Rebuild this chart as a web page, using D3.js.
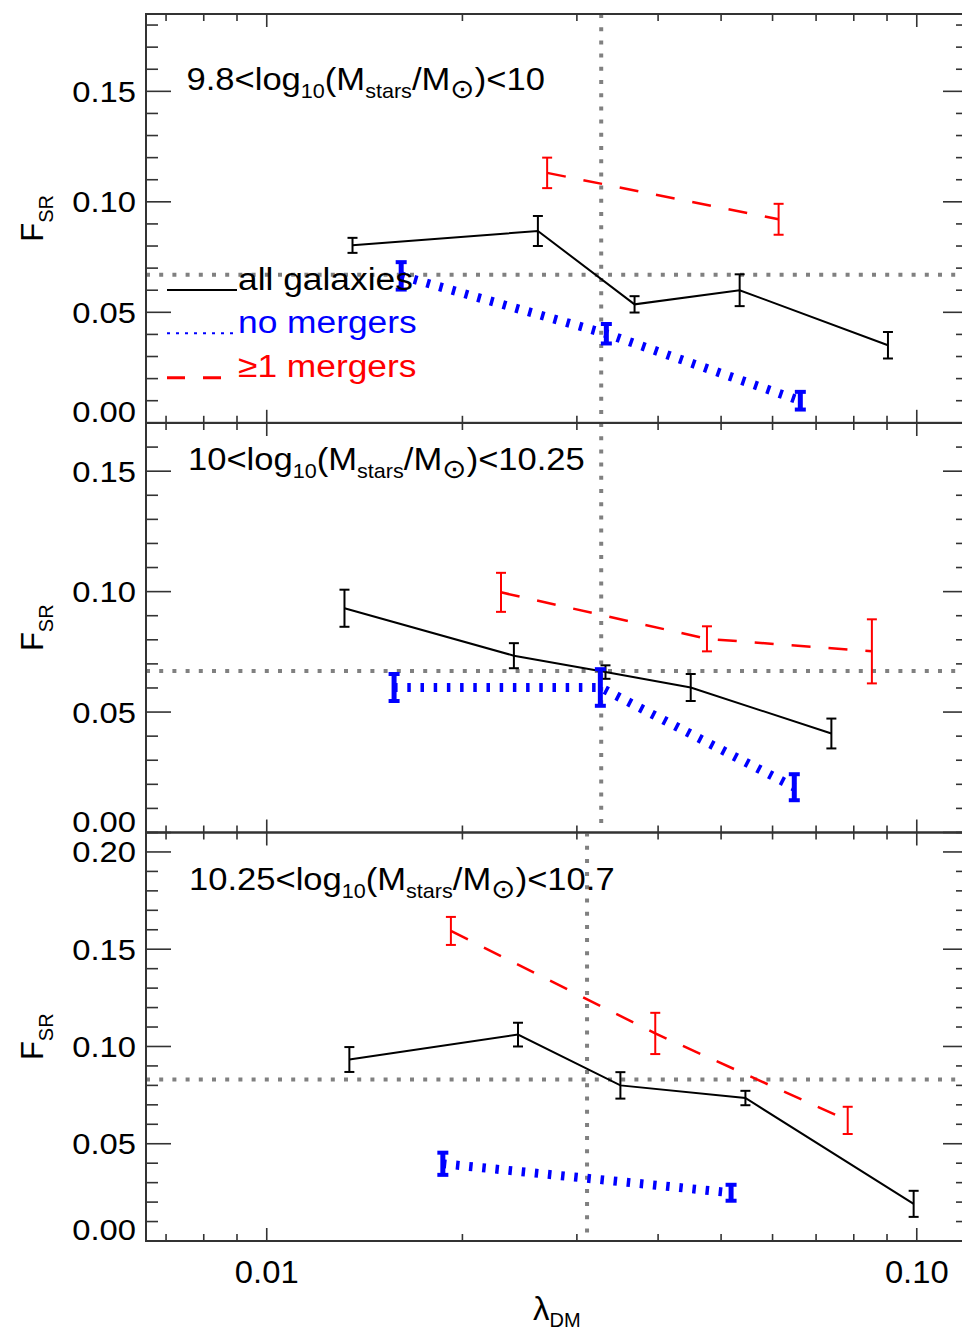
<!DOCTYPE html>
<html>
<head>
<meta charset="utf-8">
<script src="https://cdn.jsdelivr.net/npm/d3@7"></script>
<style>
  body { margin: 0; background: #fff; }
  text { font-family: "Liberation Sans", Arial, Helvetica, sans-serif; }
</style>
</head>
<body>
<svg id="chart" width="962" height="1330"></svg>
<script>
// Stellar-mass bins (log10 Mstars/Msun), one panel each
const massLow  = ["9.8", "10", "10.25"];
const massHigh = ["10", "10.25", "10.7"];

// All galaxies: lambda_DM bin centres, F_SR, 1-sigma error
const lambdaAll = [
  [0.01355, 0.02613, 0.0368, 0.0534, 0.0903],
  [0.01317, 0.0240, 0.0332, 0.0449, 0.0739],
  [0.0134, 0.02435, 0.0350, 0.0545, 0.0989]
];
const fsrAll = [
  [0.0803, 0.0868, 0.0536, 0.0600, 0.0351],
  [0.0931, 0.0734, 0.0666, 0.0602, 0.0411],
  [0.0933, 0.1061, 0.0800, 0.0735, 0.0191]
];
const errAll = [
  [0.0034, 0.0068, 0.0037, 0.0072, 0.0060],
  [0.0077, 0.0052, 0.0028, 0.0056, 0.0062],
  [0.0064, 0.0061, 0.0068, 0.0037, 0.0067]
];

// Galaxies with no mergers
const lambdaNone = [
  [0.0161, 0.0333, 0.0662],
  [0.0157, 0.0326, 0.0648],
  [0.01866, 0.0518]
];
const fsrNone = [
  [0.0665, 0.0403, 0.0100],
  [0.0602, 0.0602, 0.0188],
  [0.0397, 0.0248]
];
const errNone = [
  [0.0062, 0.0044, 0.0040],
  [0.0056, 0.0076, 0.0054],
  [0.0057, 0.0041]
];

// Galaxies with at least one merger
const lambdaMerg = [
  [0.0270, 0.0613],
  [0.02293, 0.04756, 0.0853],
  [0.0192, 0.0396, 0.0783]
];
const fsrMerg = [
  [0.1131, 0.0921],
  [0.0997, 0.0804, 0.0752],
  [0.1594, 0.1067, 0.0620]
];
const errMerg = [
  [0.0069, 0.0070],
  [0.0081, 0.0052, 0.0133],
  [0.0072, 0.0106, 0.0070]
];

// Reference values per panel: median lambda_DM and overall F_SR
const refLambda = [0.0327, 0.0327, 0.0311];
const refFsr    = [0.067, 0.067, 0.083];

// Axis ranges and tick labels
const xDomain = [0.00652, 0.1199];
const yMax = [0.185, 0.17, 0.21];
const yTickLabels = [
  ["0.00", "0.05", "0.10", "0.15"],
  ["0.00", "0.05", "0.10", "0.15"],
  ["0.00", "0.05", "0.10", "0.15", "0.20"]
];
const xTickLabels = ["0.01", "0.10"];
const legendLabels = ["all galaxies", "no mergers", "\u22651 mergers"];

// ---------- layout ----------
const plotLeft = 146, plotRight = 968;
const panelTop = [14, 423, 832.5];
const panelBottom = [422.8, 832.5, 1241];
const stretch = 1.11;          // glyphs are drawn slightly wide
const titleStretch = 1.08;
const frameColor = "#333";

const svg = d3.select("#chart");
const x = d3.scaleLog().domain(xDomain).range([plotLeft, plotRight]);

const styles = {
  all:  { color: "#000",    width: 2,   dash: null,       barW: 2,   capW: 2, cap: 5 },
  none: { color: "#0000ff", width: 9,   dash: "3.5 9.7",  barW: 5,   capW: 4, cap: 5.5 },
  merg: { color: "#ff0000", width: 2.5, dash: "19 18",    barW: 2,   capW: 2, cap: 5 }
};

function wideText(g, px, py, size, sx) {
  return g.append("text")
    .attr("transform", `translate(${px},${py}) scale(${sx},1)`)
    .style("font-size", size + "px");
}

function drawSeries(g, y, lam, val, err, st) {
  const pts = lam.map((l, i) => ({ l, v: val[i], e: err[i] }));
  const line = d3.line().x(d => x(d.l)).y(d => y(d.v));
  g.append("path")
    .attr("d", line(pts))
    .attr("fill", "none")
    .attr("stroke", st.color)
    .attr("stroke-width", st.width)
    .attr("stroke-dasharray", st.dash);
  const bars = g.append("g").attr("stroke", st.color);
  pts.forEach(d => {
    const cx = x(d.l), y1 = y(d.v + d.e), y0 = y(d.v - d.e);
    bars.append("line").attr("x1", cx).attr("x2", cx).attr("y1", y1).attr("y2", y0)
      .attr("stroke-width", st.barW);
    bars.append("line").attr("x1", cx - st.cap).attr("x2", cx + st.cap).attr("y1", y1).attr("y2", y1)
      .attr("stroke-width", st.capW);
    bars.append("line").attr("x1", cx - st.cap).attr("x2", cx + st.cap).attr("y1", y0).attr("y2", y0)
      .attr("stroke-width", st.capW);
  });
}

for (let p = 0; p < 3; p++) {
  const top = panelTop[p], bot = panelBottom[p];
  const y = d3.scaleLinear().domain([0, yMax[p]]).range([bot, top]);
  const g = svg.append("g");

  // reference lines
  const ref = g.append("g").attr("stroke", "#808080").attr("stroke-width", 4)
    .attr("stroke-dasharray", "4 9.2");
  ref.append("line").attr("x1", plotLeft).attr("x2", plotRight)
    .attr("y1", y(refFsr[p])).attr("y2", y(refFsr[p]));
  ref.append("line").attr("x1", x(refLambda[p])).attr("x2", x(refLambda[p]))
    .attr("y1", top).attr("y2", bot);

  // data
  drawSeries(g, y, lambdaAll[p], fsrAll[p], errAll[p], styles.all);
  drawSeries(g, y, lambdaNone[p], fsrNone[p], errNone[p], styles.none);
  drawSeries(g, y, lambdaMerg[p], fsrMerg[p], errMerg[p], styles.merg);

  // frame
  const ax = g.append("g").attr("stroke", frameColor).attr("fill", "none");
  ax.append("rect").attr("x", plotLeft).attr("y", top)
    .attr("width", plotRight - plotLeft).attr("height", bot - top)
    .attr("stroke-width", 2);

  // y ticks (both sides), major every 0.05, minor every 0.01
  const minorY = d3.range(0, yMax[p] + 1e-9, 0.01);
  minorY.forEach((v, i) => {
    const major = i % 5 === 0;
    const len = major ? 25 : 12;
    const yy = y(v);
    ax.append("line").attr("x1", plotLeft).attr("x2", plotLeft + len)
      .attr("y1", yy).attr("y2", yy).attr("stroke-width", 1.6);
    ax.append("line").attr("x1", plotRight).attr("x2", plotRight - len)
      .attr("y1", yy).attr("y2", yy).attr("stroke-width", 1.6);
  });

  // x ticks (top and bottom of each panel)
  x.ticks().forEach(t => {
    const major = Math.abs(Math.log10(t) - Math.round(Math.log10(t))) < 1e-6;
    const len = major ? 13 : 7;
    const xx = x(t);
    ax.append("line").attr("x1", xx).attr("x2", xx)
      .attr("y1", bot).attr("y2", bot - len).attr("stroke-width", 1.6);
    ax.append("line").attr("x1", xx).attr("x2", xx)
      .attr("y1", top).attr("y2", top + len).attr("stroke-width", 1.6);
  });

  // y tick labels
  yTickLabels[p].forEach(lbl => {
    const v = +lbl;
    const base = v === 0 ? y(v) - 1 : y(v) + 10.5;
    wideText(svg, 136, base, 29.5, stretch)
      .attr("text-anchor", "end").attr("fill", "#000").text(lbl);
  });

  // y axis title F_SR
  const yt = svg.append("text")
    .attr("transform", `translate(43,${(top + bot) / 2}) rotate(-90)`)
    .attr("text-anchor", "middle")
    .style("font-size", "31px");
  yt.append("tspan").text("F");
  yt.append("tspan").attr("dy", 10).style("font-size", "20px").text("SR");

  // panel title
  const tx = [186.5, 188, 189][p], ty = [90, 470, 890][p];
  const tt = wideText(svg, tx, ty, 32, titleStretch).attr("fill", "#000");
  tt.append("tspan").text(massLow[p] + "<log");
  tt.append("tspan").attr("dy", 8).style("font-size", "20px").text("10");
  tt.append("tspan").attr("dy", -8).text("(M");
  tt.append("tspan").attr("dy", 8).style("font-size", "20px").text("stars");
  tt.append("tspan").attr("dy", -8).text("/M");
  tt.append("tspan").attr("dy", 8).style("font-size", "27px")
    .style("font-family", "'DejaVu Sans', sans-serif").text("\u2299");
  tt.append("tspan").attr("dy", -8).text(")<" + massHigh[p]);

  // legend in the first panel
  if (p === 0) {
    const keys = ["all", "none", "merg"];
    const legY = [290, 333.3, 377.7];
    const legStyle = [
      { w: 2, dash: null },
      { w: 2, dash: "3 6" },
      { w: 3, dash: "18 18" }
    ];
    keys.forEach((k, i) => {
      svg.append("line").attr("x1", 167).attr("x2", 237)
        .attr("y1", legY[i]).attr("y2", legY[i])
        .attr("stroke", styles[k].color)
        .attr("stroke-width", legStyle[i].w)
        .attr("stroke-dasharray", legStyle[i].dash);
      wideText(svg, 238, legY[i] - 0.5, 31, 1.14)
        .attr("fill", styles[k].color).text(legendLabels[i]);
    });
  }
}

// x tick labels under the bottom panel
xTickLabels.forEach(lbl => {
  wideText(svg, x(+lbl), 1283, 31.5, 1.04)
    .attr("text-anchor", "middle").attr("fill", "#000").text(lbl);
});

// x axis title lambda_DM
const xt = svg.append("text")
  .attr("x", 533).attr("y", 1320)
  .style("font-size", "33px");
xt.append("tspan").text("\u03bb");
xt.append("tspan").attr("dy", 7).style("font-size", "20px").text("DM");
</script>
</body>
</html>
